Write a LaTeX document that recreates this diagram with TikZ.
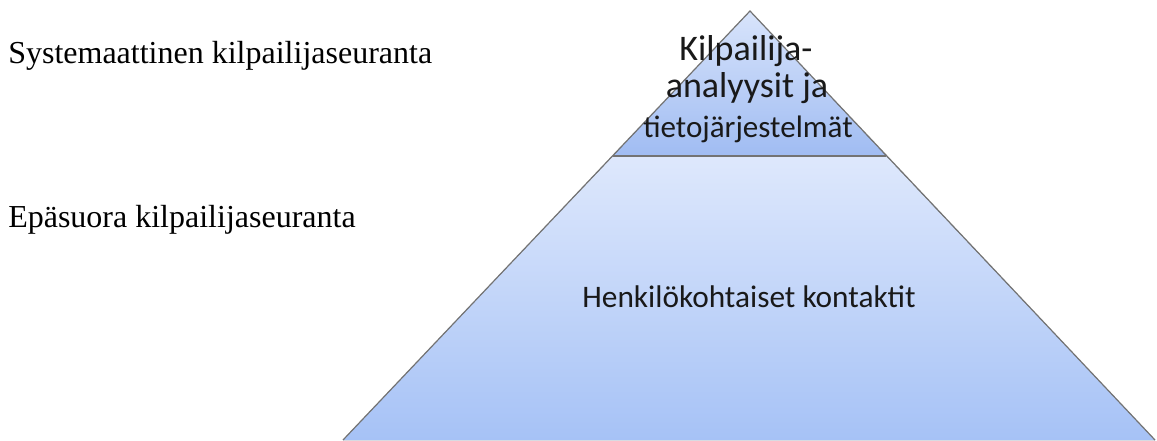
\documentclass[tikz,border=0pt]{standalone}
\usepackage{fontspec}
\setmainfont{Liberation Serif}
\newfontfamily\calfont{Carlito}
\usepackage{tikz}
\usetikzlibrary{positioning}
\definecolor{pyrlight}{HTML}{DEE8FC}
\definecolor{pyrdark}{HTML}{A6C2F6}
\definecolor{toplight}{HTML}{D8E4FB}
\definecolor{topdark}{HTML}{A0BCF2}
\tikzset{
    level/.style = {draw=black!55, line width=0.9pt, line join=miter},
    leftlabel/.style = {anchor=base west, inner sep=0pt,
                        font=\fontsize{24}{28}\selectfont},
    pyrtext/.style = {anchor=base, inner sep=0pt, text=black!90}
}

\begin{document}
\begin{tikzpicture}[x=0.75pt,y=-0.75pt]
			\useasboundingbox (0,0) rectangle (1157,440);
			\coordinate (apex) at (750,11);
			\coordinate (ml) at (613,156);
			\coordinate (mr) at (886,156);
			\coordinate (bl) at (343,440);
			\coordinate (br) at (1155,440);
			% lower part of the pyramid
			\fill [top color=pyrlight, bottom color=pyrdark] (ml) -- (mr) -- (br) -- (bl) -- cycle;
			% top part of the pyramid
			\fill [top color=toplight, bottom color=topdark] (apex) -- (mr) -- (ml) -- cycle;
			\draw [level] (bl) -- (apex) -- (br);
			\draw [level] (ml) -- (mr);
			\node (top1) [pyrtext, font=\calfont\fontsize{27}{30}\selectfont] at (746,60) {Kilpailija-};
			\node (top2) [pyrtext, font=\calfont\fontsize{27}{30}\selectfont] at (747,97) {analyysit ja};
			\node (top3) [pyrtext, font=\calfont\fontsize{23.3}{26}\selectfont] at (748,137) {tietojärjestelmät};
			\node (bottom) [pyrtext, font=\calfont\fontsize{23.5}{26}\selectfont] at (749,307) {Henkilökohtaiset kontaktit};
			\node (sys) [leftlabel] at (8,63) {Systemaattinen kilpailijaseuranta};
			\node (epa) [leftlabel] at (8,227) {Epäsuora kilpailijaseuranta};
		\end{tikzpicture}
\end{document}
